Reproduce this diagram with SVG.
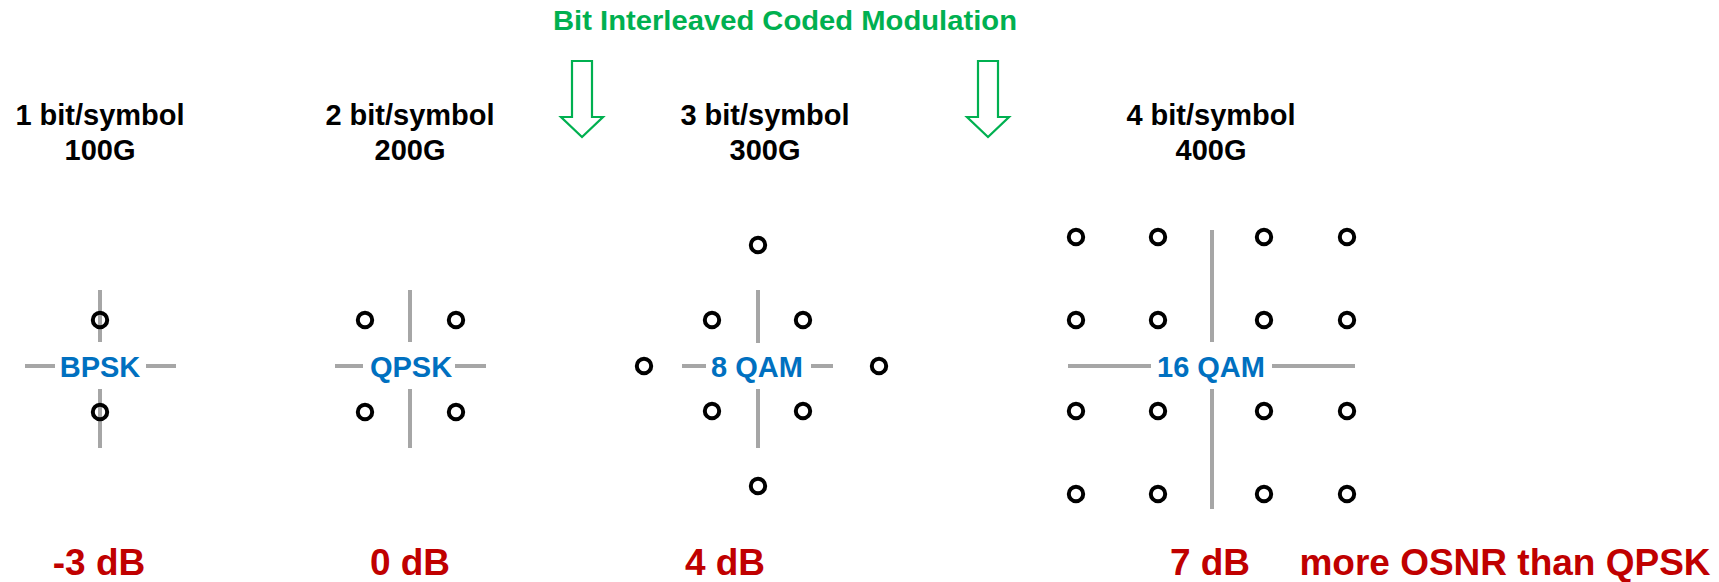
<svg xmlns="http://www.w3.org/2000/svg" width="1719" height="582" viewBox="0 0 1719 582">
  <style>
    .head { font-family: "Liberation Sans", Arial, sans-serif; font-weight: bold; font-size: 29px; fill: #000; text-anchor: middle; }
    .lbl { font-family: "Liberation Sans", Arial, sans-serif; font-weight: bold; font-size: 29px; fill: #0070c0; text-anchor: middle; }
    .db { font-family: "Liberation Sans", Arial, sans-serif; font-weight: bold; font-size: 37px; fill: #c00000; text-anchor: middle; }
    .title { font-family: "Liberation Sans", Arial, sans-serif; font-weight: bold; font-size: 27px; fill: #00b050; text-anchor: middle; }
    .axis { stroke: #a6a6a6; stroke-width: 4; fill: none; }
    .pt { stroke: #000; stroke-width: 4; fill: none; }
    .arrow { stroke: #00b050; stroke-width: 2.2; fill: #fff; stroke-linejoin: miter; }
  </style>
  <rect width="1719" height="582" fill="#fff"/>

  <g id="title">
    <text class="title" x="785" y="30" textLength="464" lengthAdjust="spacingAndGlyphs">Bit Interleaved Coded Modulation</text>
  </g>

  <!-- BPSK -->
  <g id="bpsk">
    <text class="head" x="100" y="125">1 bit/symbol</text>
    <text class="head" x="100" y="160">100G</text>
    <line class="axis" x1="100" y1="290" x2="100" y2="342"/>
    <line class="axis" x1="100" y1="389" x2="100" y2="448"/>
    <line class="axis" x1="25" y1="366" x2="55" y2="366"/>
    <line class="axis" x1="146" y1="366" x2="176" y2="366"/>
    <circle class="pt" cx="100" cy="320" r="7.2"/>
    <circle class="pt" cx="100" cy="412" r="7.2"/>
    <text class="lbl" x="100" y="377">BPSK</text>
    <text class="db" x="99" y="575">-3 dB</text>
  </g>

  <!-- QPSK -->
  <g id="qpsk">
    <text class="head" x="410" y="125">2 bit/symbol</text>
    <text class="head" x="410" y="160">200G</text>
    <line class="axis" x1="410" y1="290" x2="410" y2="342"/>
    <line class="axis" x1="410" y1="389" x2="410" y2="448"/>
    <line class="axis" x1="335" y1="366" x2="363" y2="366"/>
    <line class="axis" x1="455" y1="366" x2="486" y2="366"/>
    <circle class="pt" cx="365" cy="320" r="7.2"/>
    <circle class="pt" cx="456" cy="320" r="7.2"/>
    <circle class="pt" cx="365" cy="412" r="7.2"/>
    <circle class="pt" cx="456" cy="412" r="7.2"/>
    <text class="lbl" x="411" y="377">QPSK</text>
    <text class="db" x="410" y="575">0 dB</text>
  </g>

  <!-- 8 QAM -->
  <g id="qam8">
    <text class="head" x="765" y="125">3 bit/symbol</text>
    <text class="head" x="765" y="160">300G</text>
    <line class="axis" x1="758" y1="290" x2="758" y2="343"/>
    <line class="axis" x1="758" y1="389" x2="758" y2="448"/>
    <line class="axis" x1="682" y1="366" x2="706" y2="366"/>
    <line class="axis" x1="811" y1="366" x2="833" y2="366"/>
    <circle class="pt" cx="758" cy="245" r="7.2"/>
    <circle class="pt" cx="712" cy="320" r="7.2"/>
    <circle class="pt" cx="803" cy="320" r="7.2"/>
    <circle class="pt" cx="644" cy="366" r="7.2"/>
    <circle class="pt" cx="879" cy="366" r="7.2"/>
    <circle class="pt" cx="712" cy="411" r="7.2"/>
    <circle class="pt" cx="803" cy="411" r="7.2"/>
    <circle class="pt" cx="758" cy="486" r="7.2"/>
    <text class="lbl" x="757" y="377">8 QAM</text>
    <text class="db" x="725" y="575">4 dB</text>
  </g>

  <!-- 16 QAM -->
  <g id="qam16">
    <text class="head" x="1211" y="125">4 bit/symbol</text>
    <text class="head" x="1211" y="160">400G</text>
    <line class="axis" x1="1212" y1="230" x2="1212" y2="342"/>
    <line class="axis" x1="1212" y1="389" x2="1212" y2="509"/>
    <line class="axis" x1="1068" y1="366" x2="1151" y2="366"/>
    <line class="axis" x1="1272" y1="366" x2="1355" y2="366"/>
    <circle class="pt" cx="1076" cy="237" r="7.2"/>
    <circle class="pt" cx="1158" cy="237" r="7.2"/>
    <circle class="pt" cx="1264" cy="237" r="7.2"/>
    <circle class="pt" cx="1347" cy="237" r="7.2"/>
    <circle class="pt" cx="1076" cy="320" r="7.2"/>
    <circle class="pt" cx="1158" cy="320" r="7.2"/>
    <circle class="pt" cx="1264" cy="320" r="7.2"/>
    <circle class="pt" cx="1347" cy="320" r="7.2"/>
    <circle class="pt" cx="1076" cy="411" r="7.2"/>
    <circle class="pt" cx="1158" cy="411" r="7.2"/>
    <circle class="pt" cx="1264" cy="411" r="7.2"/>
    <circle class="pt" cx="1347" cy="411" r="7.2"/>
    <circle class="pt" cx="1076" cy="494" r="7.2"/>
    <circle class="pt" cx="1158" cy="494" r="7.2"/>
    <circle class="pt" cx="1264" cy="494" r="7.2"/>
    <circle class="pt" cx="1347" cy="494" r="7.2"/>
    <text class="lbl" x="1211" y="377">16 QAM</text>
    <text class="db" x="1210" y="575">7 dB</text>
  </g>

  <g id="note">
    <text class="db" x="1505" y="575">more OSNR than QPSK</text>
  </g>

  <!-- hollow block arrows from the title -->
  <g id="connectors">
    <polygon class="arrow" points="572,61 592,61 592,117 603,117 582,137 561,117 572,117"/>
    <polygon class="arrow" points="978,61 998,61 998,117 1009,117 988,137 967,117 978,117"/>
  </g>
</svg>
